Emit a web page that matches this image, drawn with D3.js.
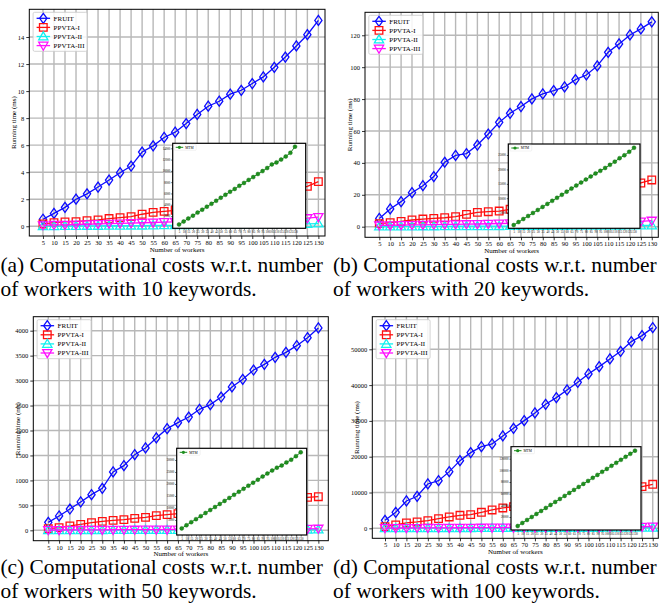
<!DOCTYPE html>
<html lang="en">
<head>
<meta charset="UTF-8">
<script src="https://cdn.jsdelivr.net/npm/d3@7/dist/d3.min.js"></script>
<title>Computational costs</title>
<style>
    body { margin: 0; background: #fff; }
    svg text { font-family: "Liberation Serif", "DejaVu Serif", serif; fill: #000; }
</style>
</head>
<body>
<script>
    // x values (number of workers), shared by all four panels
    var workers = [5, 10, 15, 20, 25, 30, 35, 40, 45, 50, 55, 60, 65, 70, 75, 80, 85, 90, 95, 100, 105, 110, 115, 120, 125, 130];
    var seriesNames = ["FRUIT", "PPVTA-I", "PPVTA-II", "PPVTA-III"];

    // (a) 10 keywords
    var fruitA = [0.52, 0.95, 1.4, 2.0, 2.4, 2.9, 3.42, 3.96, 4.45, 5.49, 5.95, 6.57, 6.96, 7.6, 8.27, 8.88, 9.25, 9.77, 10.06, 10.56, 11.05, 11.76, 12.52, 13.34, 14.17, 15.23];
    var ppvta1A = [0.17, 0.27, 0.32, 0.34, 0.42, 0.47, 0.57, 0.64, 0.71, 0.89, 1.03, 1.1, 1.18, 1.3, 1.42, 1.55, 1.66, 1.8, 1.92, 2.05, 2.2, 2.38, 2.55, 2.75, 2.95, 3.3];
    var ppvta2A = [0.01, 0.01, 0.02, 0.02, 0.03, 0.03, 0.04, 0.04, 0.05, 0.05, 0.06, 0.07, 0.07, 0.08, 0.09, 0.09, 0.1, 0.11, 0.12, 0.13, 0.14, 0.15, 0.16, 0.17, 0.18, 0.2];
    var ppvta3A = [0.08, 0.1, 0.11, 0.13, 0.15, 0.17, 0.19, 0.21, 0.23, 0.26, 0.28, 0.31, 0.33, 0.35, 0.37, 0.39, 0.41, 0.43, 0.45, 0.47, 0.5, 0.52, 0.55, 0.58, 0.6, 0.68];
    var mtmA = [500, 1020, 1560, 2060, 2600, 3120, 3650, 4160, 4700, 5240, 5760, 6300, 6800, 7350, 7860, 8400, 8900, 9450, 9960, 10500, 11150, 11500, 12000, 12550, 13200, 14300];

    // (b) 20 keywords
    var fruitB = [5.2, 11.1, 15.7, 21.3, 25.7, 31.4, 40.4, 44.7, 45.8, 51.2, 58.1, 65.4, 71.1, 75.3, 80.1, 83.2, 85.3, 87.6, 92.2, 95.1, 100.8, 109.3, 114.6, 120.2, 124.0, 128.4];
    var ppvta1B = [1.9, 2.5, 3.3, 4.2, 4.8, 5.2, 5.6, 6.3, 7.7, 9.0, 9.4, 9.8, 10.9, 12.0, 13.2, 14.5, 15.6, 16.9, 18.1, 19.4, 20.8, 22.3, 23.8, 25.5, 27.4, 29.3];
    var ppvta2B = [0.1, 0.12, 0.15, 0.18, 0.2, 0.22, 0.25, 0.27, 0.3, 0.32, 0.35, 0.37, 0.4, 0.42, 0.45, 0.48, 0.5, 0.53, 0.56, 0.6, 0.63, 0.66, 0.7, 0.74, 0.78, 0.82];
    var ppvta3B = [0.8, 0.9, 1.0, 1.1, 1.2, 1.3, 1.4, 1.5, 1.6, 1.7, 1.85, 2.0, 2.1, 2.2, 2.3, 2.4, 2.5, 2.6, 2.7, 2.8, 2.9, 3.0, 3.1, 3.2, 3.3, 3.8];
    var mtmB = [700, 1750, 2800, 3850, 4900, 5950, 7000, 8050, 9100, 10150, 11200, 12300, 13350, 14400, 15450, 16500, 17550, 18600, 19500, 20500, 21600, 22700, 23900, 24900, 26100, 27500];

    // (c) 50 keywords
    var fruitC = [160, 287, 427, 568, 715, 841, 1169, 1296, 1516, 1650, 1850, 2037, 2157, 2270, 2424, 2518, 2671, 2872, 3025, 3212, 3326, 3466, 3566, 3700, 3860, 4054];
    var ppvta1C = [33, 53, 87, 120, 154, 180, 200, 214, 240, 260, 294, 314, 334, 360, 385, 410, 435, 462, 490, 515, 545, 575, 605, 635, 661, 674];
    var ppvta2C = [2, 2, 3, 3, 4, 4, 5, 5, 6, 6, 7, 7, 8, 8, 9, 9, 10, 10, 11, 11, 12, 12, 13, 13, 14, 15];
    var ppvta3C = [5, 6, 7, 8, 9, 10, 11, 12, 13, 14, 15, 16, 17, 18, 19, 20, 21, 22, 23, 24, 25, 26, 27, 28, 29, 33];
    var mtmC = [1500, 2800, 4100, 5350, 6600, 7900, 9150, 10400, 11700, 12950, 14200, 15500, 16750, 18000, 19300, 20550, 21800, 23100, 24350, 25600, 26800, 27700, 29000, 30100, 31600, 33200];

    // (d) 100 keywords
    var fruitD = [2235, 4470, 7635, 8940, 12380, 13315, 15830, 18900, 21140, 22810, 23560, 25790, 27930, 30075, 32215, 34640, 36500, 38640, 40780, 43110, 45160, 47300, 49440, 52140, 53820, 56050];
    var ppvta1D = [465, 930, 1490, 1770, 2140, 2700, 3170, 3630, 3820, 4470, 5120, 5680, 6050, 6600, 7100, 7600, 8000, 8500, 8950, 9400, 9900, 10350, 10800, 11200, 11640, 12290];
    var ppvta2D = [20, 25, 30, 35, 40, 45, 50, 55, 60, 65, 70, 75, 80, 85, 90, 95, 100, 110, 115, 120, 130, 135, 145, 155, 165, 180];
    var ppvta3D = [60, 75, 90, 100, 115, 130, 140, 155, 170, 185, 200, 215, 230, 245, 260, 275, 290, 305, 320, 340, 360, 380, 400, 420, 440, 500];
    var mtmD = [4600, 9800, 15000, 20100, 25300, 30400, 35600, 40700, 45900, 51000, 56200, 61300, 66500, 71600, 76800, 81900, 87100, 92200, 97400, 102500, 107700, 112800, 118000, 123100, 128300, 133700];

    // tick values
    var yTicksA = [0, 2, 4, 6, 8, 10, 12, 14];
    var yTicksB = [0, 20, 40, 60, 80, 100, 120];
    var yTicksC = [0, 500, 1000, 1500, 2000, 2500, 3000, 3500, 4000];
    var yTicksD = [0, 10000, 20000, 30000, 40000, 50000];
    var insetTicksA = [2000, 4000, 6000, 8000, 10000, 12000, 14000];
    var insetTicksB = [5000, 10000, 15000, 20000, 25000];
    var insetTicksC = [5000, 10000, 15000, 20000, 25000, 30000];
    var insetTicksD = [20000, 40000, 60000, 80000, 100000, 120000];

    var colors = ["#0c0cff", "#ff1010", "#10f0f0", "#ff10ff"];
    var markers = [
        "M0,-5L3.6,0L0,5L-3.6,0Z",      // thin diamond
        "M-3.8,-3.8h7.6v7.6h-7.6Z",     // square
        "M0,-4.6L4.6,3.4L-4.6,3.4Z",    // triangle up
        "M0,4.6L4.6,-3.4L-4.6,-3.4Z"    // triangle down
    ];

    var width = 661, height = 604;
    var svg = d3.select("body").append("svg").attr("width", width).attr("height", height);

    var panels = [
        { box: [29.3, 9.3, 325, 236], xDomain: [-1.2, 133], yDomain: [-0.72, 16.05], yTicks: yTicksA,
          series: [fruitA, ppvta1A, ppvta2A, ppvta3A], mtm: mtmA,
          inset: { box: [172.7, 143.3, 305.7, 228.3], xDomain: [-1.8, 141.5], yDomain: [-180, 14890], yTicks: insetTicksA },
          caption: ["(a) Computational costs w.r.t. number", "of workers with 10 keywords."], capX: 0.5, capY: 272 },
        { box: [365, 12.3, 658.3, 237.3], xDomain: [-1.56, 133], yDomain: [-6.65, 134.4], yTicks: yTicksB,
          series: [fruitB, ppvta1B, ppvta2B, ppvta3B], mtm: mtmB,
          inset: { box: [508.3, 144, 640, 228.3], xDomain: [-0.6, 136.2], yDomain: [-417, 28820], yTicks: insetTicksB },
          caption: ["(b) Computational costs w.r.t. number", "of workers with 20 keywords."], capX: 333, capY: 272 },
        { box: [33.3, 316.7, 328.3, 540.7], xDomain: [-1.94, 134.6], yDomain: [-208, 4280], yTicks: yTicksC,
          series: [fruitC, ppvta1C, ppvta2C, ppvta3C], mtm: mtmC,
          inset: { box: [176.7, 448.3, 306.7, 535], xDomain: [-0.25, 136.3], yDomain: [-1250, 34875], yTicks: insetTicksC },
          caption: ["(c) Computational costs w.r.t. number", "of workers with 50 keywords."], capX: 0.5, capY: 574 },
        { box: [372.3, 316.7, 658.3, 538.3], xDomain: [-0.93, 132.6], yDomain: [-2793, 59106], yTicks: yTicksD,
          series: [fruitD, ppvta1D, ppvta2D, ppvta3D], mtm: mtmD,
          inset: { box: [511, 446.7, 641, 530], xDomain: [-2.1, 136.4], yDomain: [-2220, 140500], yTicks: insetTicksD },
          caption: ["(d) Computational costs w.r.t. number", "of workers with 100 keywords."], capX: 333, capY: 574 }
    ];

    panels.forEach(drawPanel);

    function drawPanel(p) {
        var L = p.box[0], T = p.box[1], R = p.box[2], B = p.box[3];
        var g = svg.append("g");
        var x = d3.scaleLinear().domain(p.xDomain).range([L, R]);
        var y = d3.scaleLinear().domain(p.yDomain).range([B, T]);

        // grid
        g.append("g").selectAll("line").data(workers).enter().append("line")
            .attr("x1", function(d) { return x(d); }).attr("x2", function(d) { return x(d); })
            .attr("y1", T).attr("y2", B)
            .attr("stroke", "#b8b8b8").attr("stroke-width", 1.4);
        g.append("g").selectAll("line").data(p.yTicks).enter().append("line")
            .attr("y1", function(d) { return y(d); }).attr("y2", function(d) { return y(d); })
            .attr("x1", L).attr("x2", R)
            .attr("stroke", "#b8b8b8").attr("stroke-width", 1.4);

        // axes
        var xa = g.append("g").attr("transform", "translate(0," + B + ")")
            .call(d3.axisBottom(x).tickValues(workers).tickSize(3).tickPadding(1.5));
        var ya = g.append("g").attr("transform", "translate(" + L + ",0)")
            .call(d3.axisLeft(y).tickValues(p.yTicks).tickSize(3).tickPadding(2).tickFormat(d3.format("d")));
        [xa, ya].forEach(function(a) {
            a.select(".domain").remove();
            a.selectAll("line").attr("stroke", "#000").attr("stroke-width", 0.8);
            a.selectAll("text").style("font-size", "6.5px").style("font-family", "Liberation Serif");
        });

        g.append("text").attr("x", (L + R) / 2).attr("y", B + 15.5)
            .attr("text-anchor", "middle").style("font-size", "7px").text("Number of workers");
        g.append("text").attr("transform", "translate(" + (L - 13) + "," + ((T + B) / 2) + ") rotate(-90)")
            .attr("text-anchor", "middle").style("font-size", "7px").text("Running time (ms)");

        // series
        var line = d3.line().x(function(d, i) { return x(workers[i]); }).y(function(d) { return y(d); });
        p.series.forEach(function(s, k) {
            var sg = g.append("g");
            sg.append("path").datum(s).attr("d", line)
                .attr("fill", "none").attr("stroke", colors[k]).attr("stroke-width", 1.3);
            sg.selectAll("path.m").data(s).enter().append("path").attr("class", "m")
                .attr("d", markers[k])
                .attr("transform", function(d, i) { return "translate(" + x(workers[i]) + "," + y(d) + ")"; })
                .attr("fill", "none").attr("stroke", colors[k]).attr("stroke-width", 1.3);
        });

        g.append("rect").attr("x", L).attr("y", T).attr("width", R - L).attr("height", B - T)
            .attr("fill", "none").attr("stroke", "#000").attr("stroke-width", 1);

        // legend
        var lg = g.append("g").attr("transform", "translate(" + (L + 3.8) + "," + (T + 3) + ")");
        lg.append("rect").attr("width", 54).attr("height", 39).attr("rx", 1.5)
            .attr("fill", "#fff").attr("fill-opacity", 0.85).attr("stroke", "#c8c8c8").attr("stroke-width", 0.8);
        seriesNames.forEach(function(name, k) {
            var yy = 6 + k * 9.1;
            lg.append("line").attr("x1", 3.5).attr("x2", 17).attr("y1", yy).attr("y2", yy)
                .attr("stroke", colors[k]).attr("stroke-width", 1.3);
            lg.append("path").attr("d", markers[k]).attr("transform", "translate(10.2," + yy + ")")
                .attr("fill", "none").attr("stroke", colors[k]).attr("stroke-width", 1.3);
            lg.append("text").attr("x", 20.5).attr("y", yy).attr("dy", "0.35em")
                .style("font-size", "7px").text(name);
        });

        drawInset(g, p.inset, p.mtm);

        // caption
        var cap = svg.append("text").attr("x", p.capX).attr("y", p.capY).style("font-size", "21.4px");
        cap.append("tspan").attr("x", p.capX).text(p.caption[0]);
        cap.append("tspan").attr("x", p.capX).attr("dy", 24).text(p.caption[1]);
    }

    function drawInset(g, ins, data) {
        var L = ins.box[0], T = ins.box[1], R = ins.box[2], B = ins.box[3];
        var ig = g.append("g");
        var x = d3.scaleLinear().domain(ins.xDomain).range([L, R]);
        var y = d3.scaleLinear().domain(ins.yDomain).range([B, T]);

        ig.append("rect").attr("x", L).attr("y", T).attr("width", R - L).attr("height", B - T).attr("fill", "#fff");

        var xa = ig.append("g").attr("transform", "translate(0," + B + ")")
            .call(d3.axisBottom(x).tickValues(workers).tickSize(1.5).tickPadding(1));
        var ya = ig.append("g").attr("transform", "translate(" + L + ",0)")
            .call(d3.axisLeft(y).tickValues(ins.yTicks).tickSize(1.5).tickPadding(1).tickFormat(d3.format("d")));
        [xa, ya].forEach(function(a) {
            a.select(".domain").remove();
            a.selectAll("line").attr("stroke", "#000").attr("stroke-width", 0.6);
            a.selectAll("text").style("font-size", "3px").style("font-family", "Liberation Serif");
        });

        var line = d3.line().x(function(d, i) { return x(workers[i]); }).y(function(d) { return y(d); });
        ig.append("path").datum(data).attr("d", line)
            .attr("fill", "none").attr("stroke", "#1a8a1a").attr("stroke-width", 1);
        ig.selectAll("circle").data(data).enter().append("circle")
            .attr("cx", function(d, i) { return x(workers[i]); })
            .attr("cy", function(d) { return y(d); })
            .attr("r", 2).attr("fill", "#1f8f1f").attr("stroke", "#107010").attr("stroke-width", 0.4);

        ig.append("rect").attr("x", L).attr("y", T).attr("width", R - L).attr("height", B - T)
            .attr("fill", "none").attr("stroke", "#000").attr("stroke-width", 1.2);

        // inset legend
        var lg = ig.append("g").attr("transform", "translate(" + (L + 1.5) + "," + (T + 1) + ")");
        lg.append("rect").attr("width", 22).attr("height", 6).attr("rx", 0.8)
            .attr("fill", "#fff").attr("stroke", "#ddd").attr("stroke-width", 0.4);
        lg.append("line").attr("x1", 1.5).attr("x2", 9).attr("y1", 3).attr("y2", 3)
            .attr("stroke", "#1a8a1a").attr("stroke-width", 1);
        lg.append("circle").attr("cx", 5.2).attr("cy", 3).attr("r", 1.6).attr("fill", "#1f8f1f");
        lg.append("text").attr("x", 11).attr("y", 3).attr("dy", "0.35em").style("font-size", "3.5px").text("MTM");
    }
</script>
</body>
</html>
